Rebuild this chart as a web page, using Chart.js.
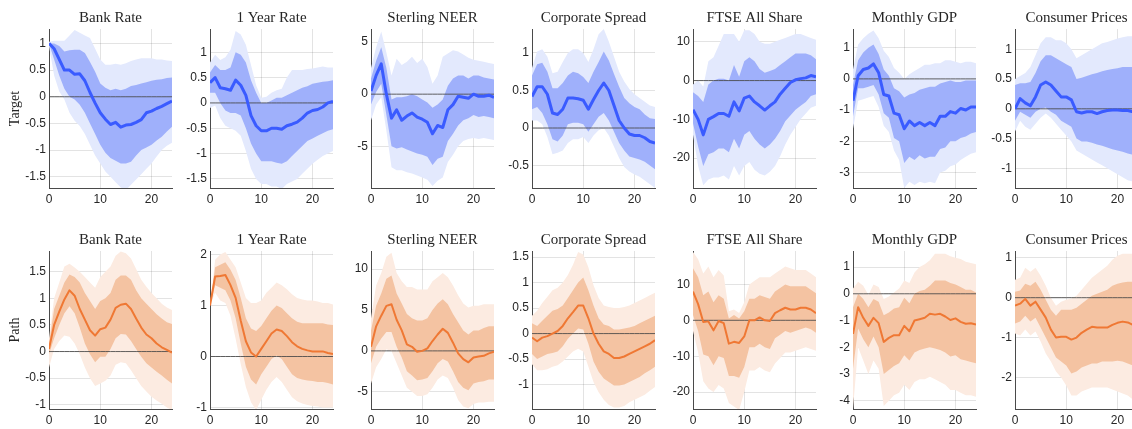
<!DOCTYPE html>
<html lang="en">

<head>
  <meta charset="UTF-8">
  <title>Target and Path shocks</title>
  <script src="https://cdn.jsdelivr.net/npm/chart.js"></script>
  <style>
    html, body { margin: 0; padding: 0; background: #fff; overflow: hidden; }
    #wrap { position: relative; width: 1132px; height: 429px; overflow: hidden; }
    #wrap canvas { position: absolute; }
  </style>
</head>

<body>
  <div id="wrap"></div>
  <script>

    // horizon in months
    var months = [0, 1, 2, 3, 4, 5, 6, 7, 8, 9, 10, 11, 12, 13, 14, 15, 16, 17, 18, 19, 20, 21, 22, 23, 24];
    var zeroLine = [0, 0, 0, 0, 0, 0, 0, 0, 0, 0, 0, 0, 0, 0, 0, 0, 0, 0, 0, 0, 0, 0, 0, 0, 0];
    var xTicks = [0, 10, 20];

    var titles = ['Bank Rate', '1 Year Rate', 'Sterling NEER', 'Corporate Spread', 'FTSE All Share', 'Monthly GDP', 'Consumer Prices'];
    var rowLabels = ['Target', 'Path'];

    // ---- Target shock ----
    var bankT_med = [1, 0.9, 0.7, 0.5, 0.5, 0.42, 0.43, 0.3, 0.08, -0.12, -0.3, -0.42, -0.52, -0.48, -0.57, -0.53, -0.52, -0.48, -0.43, -0.3, -0.27, -0.22, -0.18, -0.13, -0.08];
    var bankT_hi68 = [1, 1.0, 0.95, 0.85, 0.87, 0.88, 0.88, 0.82, 0.65, 0.47, 0.25, 0.17, 0.12, 0.15, 0.12, 0.15, 0.2, 0.22, 0.25, 0.27, 0.3, 0.32, 0.33, 0.35, 0.36];
    var bankT_lo68 = [1, 0.7, 0.4, 0.15, 0.0, -0.05, -0.15, -0.3, -0.5, -0.7, -0.9, -1.05, -1.15, -1.2, -1.25, -1.25, -1.22, -1.1, -1.0, -0.95, -0.9, -0.82, -0.75, -0.65, -0.56];
    var bankT_hi90 = [1.03, 1.05, 1.05, 1.05, 1.15, 1.25, 1.2, 1.15, 1.1, 0.9, 0.7, 0.6, 0.6, 0.62, 0.6, 0.63, 0.67, 0.7, 0.72, 0.72, 0.72, 0.7, 0.7, 0.68, 0.67];
    var bankT_lo90 = [0.95, 0.4, 0.1, -0.05, -0.3, -0.45, -0.55, -0.7, -0.9, -1.1, -1.25, -1.4, -1.5, -1.6, -1.7, -1.75, -1.65, -1.55, -1.45, -1.35, -1.25, -1.12, -1.0, -0.92, -0.86];

    var y1T_med = [0.4, 0.5, 0.3, 0.28, 0.25, 0.45, 0.35, 0.15, -0.25, -0.45, -0.55, -0.55, -0.5, -0.5, -0.52, -0.45, -0.42, -0.38, -0.3, -0.2, -0.15, -0.13, -0.08, 0.0, 0.03];
    var y1T_hi68 = [0.6, 0.75, 0.65, 0.65, 0.7, 1.0, 0.95, 0.8, 0.45, 0.2, 0.0, 0.0, 0.05, 0.1, 0.1, 0.15, 0.2, 0.25, 0.3, 0.33, 0.38, 0.4, 0.42, 0.43, 0.45];
    var y1T_lo68 = [0.2, 0.2, 0.0, -0.15, -0.2, -0.2, -0.25, -0.5, -0.8, -1.0, -1.15, -1.15, -1.15, -1.18, -1.2, -1.15, -1.05, -0.95, -0.85, -0.75, -0.7, -0.65, -0.6, -0.55, -0.52];
    var y1T_hi90 = [0.8, 0.95, 0.85, 0.9, 1.05, 1.42, 1.35, 1.15, 0.75, 0.35, 0.1, 0.12, 0.2, 0.25, 0.28, 0.5, 0.65, 0.65, 0.65, 0.67, 0.68, 0.7, 0.72, 0.7, 0.7];
    var y1T_lo90 = [-0.1, -0.05, -0.3, -0.45, -0.5, -0.55, -0.65, -0.95, -1.3, -1.5, -1.6, -1.6, -1.65, -1.65, -1.7, -1.6, -1.55, -1.5, -1.4, -1.3, -1.2, -1.12, -1.05, -1.0, -0.95];

    var neerT_med = [0.3, 1.8, 2.9, 0.0, -2.3, -1.5, -2.5, -2.1, -1.8, -2.2, -2.4, -2.7, -3.8, -3.0, -3.2, -1.5, -1.0, -0.2, -0.3, -0.4, 0.0, -0.2, -0.2, -0.1, -0.3];
    var neerT_hi68 = [1.5, 3.2, 4.5, 2.5, -0.5, -0.3, -0.3, -0.2, 0.0, -0.2, -0.5, -0.8, -1.3, -1.0, -0.5, 0.8, 1.5, 1.8, 1.8, 1.5, 1.8, 1.8, 1.6, 1.5, 1.4];
    var neerT_lo68 = [-1.0, 0.2, 1.0, -2.0, -5.0, -5.2, -5.1, -5.3, -5.5, -5.7, -5.8, -6.0, -6.8, -6.2, -6.0, -4.5, -3.8, -3.0, -2.5, -2.3, -2.0, -2.2, -2.1, -2.2, -2.3];
    var neerT_hi90 = [2.5, 4.5, 6.0, 4.0, 1.8, 3.4, 2.8, 3.1, 3.6, 3.0, 3.4, 2.6, 1.0, 1.8, 3.6, 3.9, 4.2, 4.1, 3.8, 3.5, 3.3, 3.2, 3.1, 3.0, 2.9];
    var neerT_lo90 = [-2.5, -1.0, -0.3, -3.5, -7.0, -7.3, -7.3, -7.5, -7.6, -7.8, -8.0, -8.2, -8.8, -8.3, -8.0, -6.5, -5.8, -5.0, -4.5, -4.3, -4.2, -4.3, -4.2, -4.3, -4.4];

    var corpT_med = [0.42, 0.55, 0.55, 0.45, 0.2, 0.18, 0.25, 0.4, 0.4, 0.39, 0.37, 0.25, 0.38, 0.5, 0.6, 0.5, 0.3, 0.1, 0.0, -0.08, -0.1, -0.1, -0.13, -0.18, -0.2];
    var corpT_hi68 = [0.7, 0.85, 0.87, 0.75, 0.53, 0.53, 0.6, 0.7, 0.75, 0.73, 0.68, 0.6, 0.75, 0.88, 1.02, 0.9, 0.72, 0.55, 0.4, 0.33, 0.28, 0.25, 0.18, 0.13, 0.12];
    var corpT_lo68 = [0.25, 0.28, 0.2, 0.05, -0.15, -0.18, -0.1, 0.05, 0.07, 0.07, 0.05, -0.05, 0.05, 0.15, 0.2, 0.1, -0.05, -0.2, -0.3, -0.38, -0.4, -0.42, -0.45, -0.5, -0.55];
    var corpT_hi90 = [0.8, 1.02, 1.05, 0.95, 0.73, 0.75, 0.88, 1.0, 1.05, 1.05, 1.0, 0.88, 1.05, 1.25, 1.32, 1.15, 0.95, 0.75, 0.62, 0.52, 0.45, 0.4, 0.35, 0.3, 0.28];
    var corpT_lo90 = [0.1, 0.1, 0.05, -0.12, -0.35, -0.33, -0.3, -0.2, -0.15, -0.15, -0.12, -0.2, -0.1, -0.03, 0.0, -0.1, -0.25, -0.4, -0.52, -0.58, -0.62, -0.65, -0.7, -0.75, -0.8];

    var ftseT_med = [-7.5, -10, -14, -10, -9.3, -8.5, -8.5, -9.2, -5.5, -7.8, -4.5, -4.0, -5.5, -6.5, -7.6, -6.5, -5.5, -3.5, -2.0, -0.5, 0.2, 0.5, 0.7, 1.3, 1.0];
    var ftseT_hi68 = [-3, -4, -5.5, -1, 0, 0.5, 0.5, 0, 4, 1, 5, 6, 5, 3, 2, 2.5, 3, 4, 5, 6, 7, 7, 7, 6.5, 5.5];
    var ftseT_lo68 = [-11, -17, -22, -19, -18.5, -17.5, -17.5, -18.5, -15, -17.5, -14, -13, -15, -16.5, -17.5, -16.5, -15, -13, -10.5, -9, -7.5, -6.5, -5.5, -4, -3.5];
    var ftseT_hi90 = [-1, 0, -1.5, 5, 6, 9, 12, 12, 12, 10, 13, 13, 12, 10, 9.5, 9.5, 10, 10.5, 11, 11.5, 12, 12, 11.5, 11, 10.5];
    var ftseT_lo90 = [-14, -22, -27, -25.5, -25, -25, -24.5, -25.5, -22, -24.5, -22, -21, -23, -24, -24.5, -23.5, -22, -19.5, -16.5, -14, -12, -10, -8.5, -7, -6.5];

    var gdpT_med = [-0.7, 0.1, 0.3, 0.35, 0.48, 0.2, -0.5, -0.55, -1.1, -1.15, -1.6, -1.35, -1.5, -1.4, -1.5, -1.4, -1.5, -1.2, -1.2, -1.05, -1.1, -0.95, -1.0, -0.9, -0.9];
    var gdpT_hi68 = [-0.2, 0.6, 0.85, 1.0, 1.1, 0.8, 0.3, 0.1, -0.3, -0.4, -0.6, -0.5, -0.45, -0.35, -0.3, -0.25, -0.25, -0.15, -0.1, -0.05, -0.1, -0.1, -0.05, -0.05, -0.05];
    var gdpT_lo68 = [-1.2, -0.3, -0.3, -0.25, -0.2, -0.5, -1.1, -1.25, -1.9, -2.0, -2.7, -2.5, -2.6, -2.45, -2.55, -2.5, -2.5, -2.25, -2.2, -2.0, -2.0, -1.9, -1.85, -1.75, -1.7];
    var gdpT_hi90 = [0.3, 1.1, 1.3, 1.45, 1.55, 1.3, 0.9, 0.7, 0.35, 0.2, 0.0, 0.15, 0.25, 0.35, 0.45, 0.45, 0.5, 0.5, 0.6, 0.6, 0.55, 0.5, 0.55, 0.55, 0.5];
    var gdpT_lo90 = [-1.6, -0.7, -0.65, -0.6, -0.55, -0.9, -1.5, -1.7, -2.3, -2.6, -3.5, -3.3, -3.4, -3.3, -3.35, -3.3, -3.35, -3.0, -2.95, -2.8, -2.75, -2.6, -2.5, -2.4, -2.35];

    var cpiT_med = [0.0, 0.17, 0.1, 0.05, 0.2, 0.4, 0.45, 0.4, 0.3, 0.2, 0.2, 0.15, -0.05, -0.07, -0.05, -0.05, -0.08, -0.05, -0.03, -0.02, -0.02, -0.03, -0.03, -0.05, -0.08];
    var cpiT_hi68 = [0.4, 0.43, 0.43, 0.45, 0.6, 0.8, 0.9, 0.9, 0.85, 0.8, 0.75, 0.7, 0.5, 0.52, 0.55, 0.58, 0.6, 0.63, 0.65, 0.67, 0.68, 0.7, 0.7, 0.7, 0.7];
    var cpiT_lo68 = [-0.2, -0.05, -0.1, -0.15, -0.05, 0.0, 0.02, -0.05, -0.1, -0.2, -0.25, -0.3, -0.5, -0.55, -0.55, -0.57, -0.6, -0.62, -0.65, -0.68, -0.7, -0.72, -0.75, -0.77, -0.8];
    var cpiT_hi90 = [0.5, 0.55, 0.6, 0.7, 0.9, 1.1, 1.2, 1.2, 1.15, 1.15, 1.1, 1.0, 0.85, 0.9, 0.95, 1.0, 1.05, 1.1, 1.12, 1.15, 1.18, 1.2, 1.22, 1.22, 1.22];
    var cpiT_lo90 = [-0.38, -0.2, -0.3, -0.35, -0.25, -0.15, -0.08, -0.15, -0.25, -0.35, -0.45, -0.55, -0.7, -0.75, -0.8, -0.85, -0.9, -0.95, -1.0, -1.05, -1.1, -1.15, -1.2, -1.22, -1.25];

    // ---- Path shock ----
    var bankP_med = [0.05, 0.5, 0.75, 0.98, 1.15, 1.05, 0.8, 0.6, 0.4, 0.3, 0.42, 0.45, 0.6, 0.82, 0.88, 0.9, 0.8, 0.62, 0.45, 0.32, 0.25, 0.15, 0.08, 0.03, -0.02];
    var bankP_hi68 = [0.15, 0.8, 1.05, 1.3, 1.45, 1.4, 1.3, 1.1, 0.95, 0.8, 0.95, 1.0, 1.1, 1.35, 1.43, 1.43, 1.35, 1.15, 1.0, 0.9, 0.8, 0.7, 0.62, 0.55, 0.52];
    var bankP_lo68 = [-0.05, 0.25, 0.5, 0.72, 0.85, 0.72, 0.45, 0.15, -0.05, -0.2, -0.1, -0.1, 0.05, 0.25, 0.33, 0.32, 0.2, 0.05, -0.1, -0.22, -0.3, -0.38, -0.45, -0.53, -0.6];
    var bankP_hi90 = [0.25, 1.0, 1.3, 1.6, 1.65, 1.58, 1.5, 1.4, 1.3, 1.2, 1.4, 1.5, 1.6, 1.8, 1.88, 1.85, 1.75, 1.55, 1.35, 1.22, 1.1, 1.0, 0.9, 0.83, 0.78];
    var bankP_lo90 = [-0.3, 0.05, 0.2, 0.3, 0.28, 0.15, -0.05, -0.3, -0.5, -0.65, -0.6, -0.55, -0.45, -0.25, -0.2, -0.22, -0.35, -0.5, -0.65, -0.75, -0.85, -0.92, -0.98, -1.05, -1.1];

    var y1P_med = [1.0, 1.57, 1.58, 1.6, 1.4, 1.15, 0.7, 0.3, 0.08, 0.0, 0.15, 0.3, 0.45, 0.53, 0.5, 0.4, 0.28, 0.2, 0.15, 0.12, 0.1, 0.1, 0.1, 0.07, 0.05];
    var y1P_hi68 = [1.0, 1.75, 1.8, 1.85, 1.7, 1.5, 1.15, 0.75, 0.55, 0.5, 0.6, 0.75, 0.9, 1.0, 0.95, 0.85, 0.75, 0.68, 0.65, 0.65, 0.65, 0.65, 0.65, 0.63, 0.62];
    var y1P_lo68 = [1.0, 1.4, 1.35, 1.3, 1.1, 0.75, 0.25, -0.2, -0.45, -0.55, -0.35, -0.2, -0.05, 0.02, -0.05, -0.2, -0.35, -0.42, -0.45, -0.47, -0.48, -0.5, -0.5, -0.52, -0.55];
    var y1P_hi90 = [1.0, 1.9, 2.0, 2.05, 1.9, 1.75, 1.45, 1.15, 1.05, 1.05, 1.1, 1.25, 1.35, 1.45, 1.4, 1.32, 1.22, 1.15, 1.12, 1.1, 1.1, 1.08, 1.05, 1.05, 1.02];
    var y1P_lo90 = [1.0, 1.25, 1.1, 1.05, 0.8, 0.35, -0.15, -0.6, -0.9, -1.05, -0.85, -0.65, -0.5, -0.4, -0.5, -0.65, -0.8, -0.88, -0.92, -0.95, -0.97, -0.98, -1.0, -1.0, -1.0];

    var neerP_med = [0.5, 3.0, 4.3, 5.5, 5.7, 3.8, 2.5, 0.8, 0.5, -0.1, 0.0, 0.3, 1.2, 2.0, 2.7, 2.2, 1.0, -0.3, -1.0, -1.4, -0.8, -0.7, -0.6, -0.3, -0.1];
    var neerP_hi68 = [2.5, 5.5, 7.0, 8.8, 9.2, 7.0, 5.8, 4.5, 4.0, 3.7, 3.7, 4.0, 5.0, 5.8, 6.3, 5.7, 4.5, 3.5, 2.5, 2.0, 2.5, 2.5, 2.8, 3.0, 3.0];
    var neerP_lo68 = [-1.5, 0.5, 1.5, 2.3, 2.3, 0.5, -0.8, -2.5, -3.0, -3.6, -3.5, -3.3, -2.5, -1.5, -1.0, -1.3, -2.5, -3.8, -4.5, -4.8, -4.0, -3.8, -3.7, -3.5, -3.5];
    var neerP_hi90 = [4.0, 8.0, 9.5, 11.5, 12.0, 9.5, 8.5, 7.8, 7.8, 7.5, 7.5, 7.5, 8.5, 9.0, 9.5, 9.0, 8.0, 6.8, 5.8, 5.3, 5.5, 5.5, 5.7, 5.7, 5.7];
    var neerP_lo90 = [-4.0, -2.0, -1.0, 0.2, 0.0, -1.5, -3.0, -4.5, -5.0, -5.5, -5.5, -5.3, -4.5, -3.5, -3.0, -3.3, -4.5, -6.0, -6.8, -7.0, -6.5, -6.3, -6.3, -6.2, -6.2];

    var corpP_med = [-0.08, -0.15, -0.08, -0.05, 0.0, 0.05, 0.15, 0.3, 0.42, 0.55, 0.55, 0.3, 0.0, -0.2, -0.35, -0.4, -0.48, -0.48, -0.45, -0.4, -0.35, -0.3, -0.25, -0.2, -0.13];
    var corpP_hi68 = [0.2, 0.15, 0.25, 0.35, 0.45, 0.48, 0.55, 0.7, 0.85, 1.0, 1.1, 0.85, 0.55, 0.3, 0.18, 0.15, 0.08, 0.08, 0.1, 0.12, 0.15, 0.2, 0.25, 0.3, 0.35];
    var corpP_lo68 = [-0.4, -0.5, -0.45, -0.4, -0.38, -0.35, -0.25, -0.1, 0.0, 0.1, 0.08, -0.2, -0.55, -0.75, -0.88, -0.95, -1.02, -1.02, -1.0, -0.95, -0.9, -0.85, -0.78, -0.72, -0.65];
    var corpP_hi90 = [0.35, 0.45, 0.6, 0.72, 0.85, 0.9, 1.0, 1.15, 1.35, 1.6, 1.55, 1.3, 0.95, 0.7, 0.55, 0.52, 0.5, 0.5, 0.52, 0.55, 0.6, 0.65, 0.7, 0.75, 0.8];
    var corpP_lo90 = [-0.6, -0.72, -0.72, -0.7, -0.65, -0.62, -0.55, -0.45, -0.35, -0.3, -0.35, -0.65, -0.95, -1.15, -1.3, -1.4, -1.45, -1.45, -1.42, -1.35, -1.3, -1.25, -1.2, -1.12, -1.05];

    var ftseP_med = [8.0, 4.5, -0.5, -0.3, -2.8, -0.2, -0.8, -6.5, -6.0, -6.3, -4.5, 0.0, 0.0, 0.8, 0.0, -0.2, 2.0, 2.8, 3.5, 3.0, 3.0, 3.5, 3.5, 3.0, 2.0];
    var ftseP_hi68 = [14.5, 12, 7, 8, 5, 7, 6, 0.5, 1.5, 0.5, 2.5, 6, 6, 7, 6.5, 6, 8, 9, 10, 9.5, 9.5, 9.5, 9.5, 8.5, 7.5];
    var ftseP_lo68 = [1.5, -3, -9.5, -10, -12.5, -10, -10.5, -15.5, -15.5, -16, -13, -7.5, -7.5, -6.5, -7.5, -8, -5, -4, -3, -3.5, -3, -2.5, -2, -2.5, -3.5];
    var ftseP_hi90 = [19, 17, 13, 15, 12, 14, 12.5, 2.5, 3, 2, 5, 10, 11, 12, 12, 12, 13, 14, 15, 14.5, 14, 14, 14, 13, 12];
    var ftseP_lo90 = [-3, -9, -17, -19, -20, -18, -19, -23, -24, -25, -20, -14, -14, -13, -14, -14.5, -12, -10.5, -9, -9, -8.5, -8, -7.5, -8, -8.5];

    var gdpP_med = [-1.5, -0.5, -0.9, -1.2, -0.9, -1.1, -1.8, -1.65, -1.55, -1.55, -1.2, -1.4, -1.0, -0.95, -0.9, -0.75, -0.78, -0.75, -0.85, -0.98, -0.92, -1.05, -1.12, -1.1, -1.15];
    var gdpP_hi68 = [-0.5, 0.0, -0.2, -0.5, -0.2, -0.3, -0.8, -0.7, -0.55, -0.5, -0.15, -0.35, 0.0, 0.1, 0.15, 0.3, 0.5, 0.5, 0.5, 0.4, 0.35, 0.25, 0.15, 0.15, 0.05];
    var gdpP_lo68 = [-2.8, -1.3, -1.7, -2.0, -1.6, -2.0, -3.0, -2.85, -2.7, -2.6, -2.3, -2.5, -2.2, -2.1, -2.05, -2.0, -2.05, -2.1, -2.2, -2.35, -2.3, -2.45, -2.5, -2.55, -2.6];
    var gdpP_hi90 = [0.2, 0.45, 0.3, -0.05, 0.35, 0.25, -0.2, -0.1, 0.05, 0.2, 0.5, 0.4, 0.8, 1.0, 1.1, 1.25, 1.5, 1.5, 1.5, 1.4, 1.35, 1.3, 1.2, 1.15, 1.1];
    var gdpP_lo90 = [-4.3, -2.0, -2.5, -3.0, -2.5, -2.8, -4.2, -4.0, -3.8, -3.7, -3.4, -3.6, -3.3, -3.2, -3.2, -3.1, -3.2, -3.3, -3.4, -3.6, -3.6, -3.7, -3.8, -3.8, -3.85];

    var cpiP_med = [-0.2, -0.15, -0.03, -0.2, -0.1, -0.3, -0.5, -0.8, -1.0, -0.98, -0.98, -1.05, -1.0, -0.88, -0.8, -0.73, -0.75, -0.75, -0.75, -0.68, -0.63, -0.6, -0.62, -0.68, -0.75];
    var cpiP_hi68 = [0.15, 0.18, 0.35, 0.3, 0.4, 0.2, -0.05, -0.3, -0.45, -0.3, -0.3, -0.3, -0.25, -0.15, -0.05, 0.05, 0.1, 0.15, 0.2, 0.3, 0.35, 0.38, 0.4, 0.4, 0.38];
    var cpiP_lo68 = [-0.65, -0.6, -0.45, -0.6, -0.5, -0.75, -1.0, -1.25, -1.5, -1.6, -1.7, -1.9, -1.85, -1.75, -1.7, -1.65, -1.65, -1.6, -1.6, -1.6, -1.58, -1.6, -1.65, -1.7, -1.8];
    var cpiP_hi90 = [0.45, 0.5, 0.75, 0.65, 0.75, 0.55, 0.3, 0.0, -0.2, -0.1, -0.05, -0.02, 0.05, 0.2, 0.35, 0.5, 0.6, 0.7, 0.8, 0.95, 1.05, 1.1, 1.1, 1.1, 1.1];
    var cpiP_lo90 = [-0.9, -0.95, -0.8, -0.95, -0.85, -1.1, -1.4, -1.6, -1.85, -2.0, -2.2, -2.45, -2.45, -2.35, -2.3, -2.25, -2.25, -2.25, -2.25, -2.3, -2.35, -2.4, -2.45, -2.55, -2.65];

    // y axis limits and ticks, one entry per panel
    var targetYMin = [-1.71, -1.68, -9, -0.8, -27.7, -3.5, -1.33];
    var targetYMax = [1.27, 1.46, 6.25, 1.32, 13.3, 1.6, 1.34];
    var targetYTicks = [
      [-1.5, -1, -0.5, 0, 0.5, 1],
      [-1.5, -1, -0.5, 0, 0.5, 1],
      [-5, 0, 5],
      [-0.5, 0, 0.5, 1],
      [-20, -10, 0, 10],
      [-3, -2, -1, 0, 1],
      [-1, -0.5, 0, 0.5, 1]
    ];
    var pathYMin = [-1.08, -1.03, -7.1, -1.48, -24.7, -4.31, -2.79];
    var pathYMax = [1.89, 2.07, 12.2, 1.62, 19.3, 1.6, 1.17];
    var pathYTicks = [
      [-1, -0.5, 0, 0.5, 1, 1.5],
      [-1, 0, 1, 2],
      [-5, 0, 5, 10],
      [-1, -0.5, 0, 0.5, 1, 1.5],
      [-20, -10, 0, 10],
      [-4, -3, -2, -1, 0, 1],
      [-2, -1, 0, 1]
    ];

    var targetSeries = [
      [bankT_med, bankT_hi68, bankT_lo68, bankT_hi90, bankT_lo90],
      [y1T_med, y1T_hi68, y1T_lo68, y1T_hi90, y1T_lo90],
      [neerT_med, neerT_hi68, neerT_lo68, neerT_hi90, neerT_lo90],
      [corpT_med, corpT_hi68, corpT_lo68, corpT_hi90, corpT_lo90],
      [ftseT_med, ftseT_hi68, ftseT_lo68, ftseT_hi90, ftseT_lo90],
      [gdpT_med, gdpT_hi68, gdpT_lo68, gdpT_hi90, gdpT_lo90],
      [cpiT_med, cpiT_hi68, cpiT_lo68, cpiT_hi90, cpiT_lo90]
    ];
    var pathSeries = [
      [bankP_med, bankP_hi68, bankP_lo68, bankP_hi90, bankP_lo90],
      [y1P_med, y1P_hi68, y1P_lo68, y1P_hi90, y1P_lo90],
      [neerP_med, neerP_hi68, neerP_lo68, neerP_hi90, neerP_lo90],
      [corpP_med, corpP_hi68, corpP_lo68, corpP_hi90, corpP_lo90],
      [ftseP_med, ftseP_hi68, ftseP_lo68, ftseP_hi90, ftseP_lo90],
      [gdpP_med, gdpP_hi68, gdpP_lo68, gdpP_hi90, gdpP_lo90],
      [cpiP_med, cpiP_hi68, cpiP_lo68, cpiP_hi90, cpiP_lo90]
    ];

    var blue = { line: '#3a5bff', width: 3, inner: '#9fb0fb', outer: '#e3e9fd' };
    var orange = { line: '#ef7834', width: 2, inner: '#f4c3a2', outer: '#fcebe1' };

    var axisW = 48, plotW = 123, xAxisH = 22;
    var plotLefts = [49, 210, 371, 532, 693, 853, 1015];
    var wrap = document.getElementById('wrap');

    function pts(arr) {
      return arr.map(function (v, i) { return { x: months[i], y: v }; });
    }

    function drawPanel(col, top, height, series, yMin, yMax, yTicks, colors, rowLabel) {
      var canvas = document.createElement('canvas');
      canvas.width = axisW + plotW + 3;
      canvas.height = height;
      canvas.style.left = (plotLefts[col] - axisW) + 'px';
      canvas.style.top = top + 'px';
      wrap.appendChild(canvas);

      var tickFont = { family: 'Liberation Sans', size: 12 };
      var gridCol = 'rgba(38,38,38,0.13)';

      new Chart(canvas, {
        type: 'line',
        data: {
          datasets: [
            { data: pts(series[0]), borderColor: colors.line, borderWidth: colors.width, borderJoinStyle: 'round', pointRadius: 0, fill: false },
            { data: pts(zeroLine), borderColor: 'rgba(70,70,70,0.85)', borderWidth: 1, pointRadius: 0, fill: false },
            { data: pts(series[1]), borderWidth: 0, pointRadius: 0, backgroundColor: colors.inner, fill: '+1' },
            { data: pts(series[2]), borderWidth: 0, pointRadius: 0, fill: false },
            { data: pts(series[3]), borderWidth: 0, pointRadius: 0, backgroundColor: colors.outer, fill: '+1' },
            { data: pts(series[4]), borderWidth: 0, pointRadius: 0, fill: false }
          ]
        },
        options: {
          responsive: false,
          animation: false,
          events: [],
          layout: { padding: { left: 0, right: 3, top: 0, bottom: 0 } },
          plugins: {
            legend: { display: false },
            tooltip: { enabled: false },
            title: {
              display: true,
              text: titles[col],
              fullSize: false,
              color: '#262626',
              font: { family: 'Liberation Serif', size: 15, weight: 'normal', lineHeight: 1.2 },
              padding: { top: 9, bottom: 2 }
            }
          },
          scales: {
            x: {
              type: 'linear',
              min: 0,
              max: 24,
              z: 1,
              afterBuildTicks: function (axis) {
                axis.ticks = xTicks.map(function (v) { return { value: v }; });
              },
              afterFit: function (axis) { axis.height = xAxisH; },
              grid: { color: gridCol, drawTicks: false },
              border: { color: '#4a4a4a', width: 1 },
              ticks: { color: '#262626', font: tickFont, padding: 4, maxRotation: 0 }
            },
            y: {
              type: 'linear',
              min: yMin,
              max: yMax,
              z: 1,
              afterBuildTicks: function (axis) {
                axis.ticks = yTicks.map(function (v) { return { value: v }; });
              },
              afterFit: function (axis) { axis.width = axisW; },
              grid: { color: gridCol, drawTicks: false },
              border: { color: '#4a4a4a', width: 1 },
              ticks: {
                color: '#262626', font: tickFont, padding: 3,
                callback: function (v) { return String(v); }
              },
              title: {
                display: !!rowLabel,
                text: rowLabel || '',
                color: '#262626',
                font: { family: 'Liberation Serif', size: 14, weight: 'normal', lineHeight: 1.2 },
                padding: { top: 6, bottom: 0 }
              }
            }
          }
        }
      });
    }

    for (var c = 0; c < 7; c++) {
      drawPanel(c, 0, 210, targetSeries[c], targetYMin[c], targetYMax[c], targetYTicks[c], blue, c === 0 ? rowLabels[0] : null);
      drawPanel(c, 222, 209, pathSeries[c], pathYMin[c], pathYMax[c], pathYTicks[c], orange, c === 0 ? rowLabels[1] : null);
    }
  </script>
</body>

</html>
